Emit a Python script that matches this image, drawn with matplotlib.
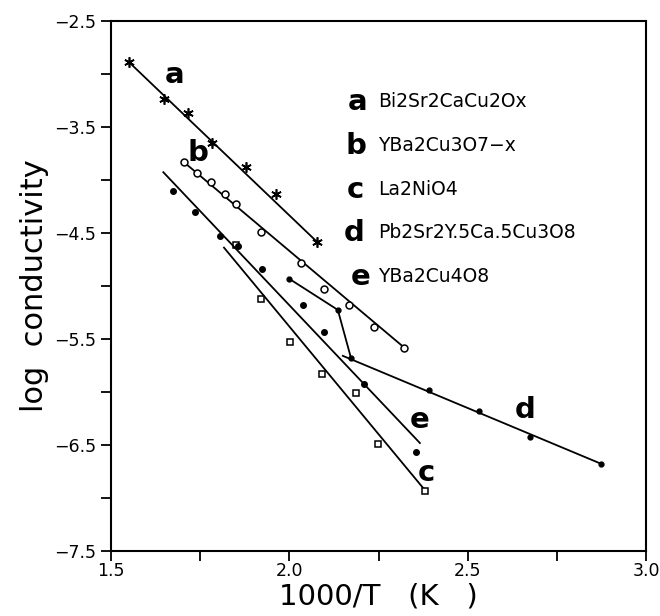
import matplotlib
matplotlib.use("Agg")
import matplotlib.pyplot as plt

# Series a: Bi2Sr2CaCu2Ox (stars)
a_x = [1.551, 1.649, 1.715, 1.782, 1.878, 1.962, 2.077]
a_y = [-2.892, -3.238, -3.373, -3.650, -3.876, -4.136, -4.583]

# Series b: YBa2Cu3O7-x (open circles)
b_x = [1.705, 1.740, 1.780, 1.820, 1.850, 1.921, 2.033, 2.097, 2.167, 2.238, 2.322]
b_y = [-3.835, -3.938, -4.025, -4.135, -4.230, -4.492, -4.787, -5.026, -5.184, -5.384, -5.582]

# Series c: La2NiO4 (open squares)
c_x = [1.852, 1.922, 2.002, 2.092, 2.186, 2.248, 2.381]
c_y = [-4.619, -5.128, -5.531, -5.830, -6.006, -6.490, -6.930]
c_fit_x = [1.817, 2.381]
c_fit_y = [-4.640, -6.930]

# Series d: Pb2Sr2Y.5Ca.5Cu3O8 (small dots, broken line)
d_x = [2.000, 2.136, 2.173, 2.392, 2.532, 2.675, 2.874]
d_y = [-4.934, -5.227, -5.682, -5.981, -6.176, -6.426, -6.678]
d_fit_x = [2.150, 2.874]
d_fit_y = [-5.660, -6.678]

# Series e: YBa2Cu4O8 (filled dots)
e_x = [1.674, 1.736, 1.806, 1.856, 1.924, 2.039, 2.098, 2.209, 2.354]
e_y = [-4.107, -4.305, -4.532, -4.626, -4.838, -5.182, -5.437, -5.930, -6.568]
e_fit_x = [1.647, 2.366]
e_fit_y = [-3.929, -6.482]

legend_keys = ["a", "b", "c", "d", "e"]
legend_names = ["Bi2Sr2CaCu2Ox", "YBa2Cu3O7\u2212x", "La2NiO4",
                "Pb2Sr2Y.5Ca.5Cu3O8", "YBa2Cu4O8"]

x_major = [1.5, 2.0, 2.5, 3.0]
x_minor = [1.75, 2.25, 2.75]
y_major = [-7.5, -6.5, -5.5, -4.5, -3.5, -2.5]
y_minor = [-7.0, -6.0, -5.0, -4.0, -3.0]

fig = plt.figure(figsize=(6.6, 6.16), dpi=100)
ax = fig.add_axes([0.168, 0.1055, 0.811, 0.861])
lw = 1.3
k = "black"

# a
ax.plot([a_x[0], a_x[-1]], [a_y[0], a_y[-1]], color=k, lw=lw)
ax.plot(a_x, a_y, ls="none", marker=(6, 2, 0), ms=7.5, mew=1.2, color=k)

# b
ax.plot([b_x[0], b_x[-1]], [b_y[0], b_y[-1]], color=k, lw=lw)
ax.plot(b_x, b_y, ls="none", marker="o", ms=5, mfc="white", mec=k, mew=1.1)

# c
ax.plot(c_fit_x, c_fit_y, color=k, lw=lw)
ax.plot(c_x, c_y, ls="none", marker="s", ms=4.5, mfc="white", mec=k, mew=1.1)

# d
ax.plot(d_x[:3], d_y[:3], color=k, lw=lw)
ax.plot(d_fit_x, d_fit_y, color=k, lw=lw)
ax.plot(d_x, d_y, ls="none", marker="o", ms=3.5, color=k)

# e
ax.plot(e_fit_x, e_fit_y, color=k, lw=lw)
ax.plot(e_x, e_y, ls="none", marker="o", ms=4, color=k)

# curve letters
lab_kw = dict(fontsize=21, fontweight="bold", ha="center", va="center")
ax.text(1.679, -3.01, "a", **lab_kw)
ax.text(1.744, -3.75, "b", **lab_kw)
ax.text(2.364, -6.263, "e", **lab_kw)
ax.text(2.385, -6.766, "c", **lab_kw)
ax.text(2.661, -6.169, "d", **lab_kw)

# legend text block
leg_y = [-3.263, -3.681, -4.096, -4.498, -4.913]
leg_kx = [2.190, 2.186, 2.186, 2.181, 2.200]
for i, (kk, nm) in enumerate(zip(legend_keys, legend_names)):
    ax.text(leg_kx[i], leg_y[i], kk, fontsize=21, fontweight="bold", ha="center", va="center")
    ax.text(2.249, leg_y[i], nm, fontsize=13.5, ha="left", va="center")

ax.set_xlim(1.5, 3.0)
ax.set_ylim(-7.5, -2.5)
ax.set_xticks(x_major)
ax.set_xticks(x_minor, minor=True)
ax.set_yticks(y_major)
ax.set_yticks(y_minor, minor=True)
ax.set_xticklabels([f"{v:.1f}" for v in x_major])
ax.set_yticklabels([f"\u2212{abs(v):.1f}" for v in y_major])
ax.tick_params(which="both", direction="out", length=7, width=1.3, labelsize=12.5, colors=k)
ax.tick_params(axis="x", which="major", pad=1)
for s in ax.spines.values():
    s.set_linewidth(1.5)

ax.set_xlabel("1000/T   (K   )", fontsize=21, labelpad=2)
ax.set_ylabel("log  conductivity", fontsize=22, labelpad=4)

fig.savefig("out.png", dpi=100)
